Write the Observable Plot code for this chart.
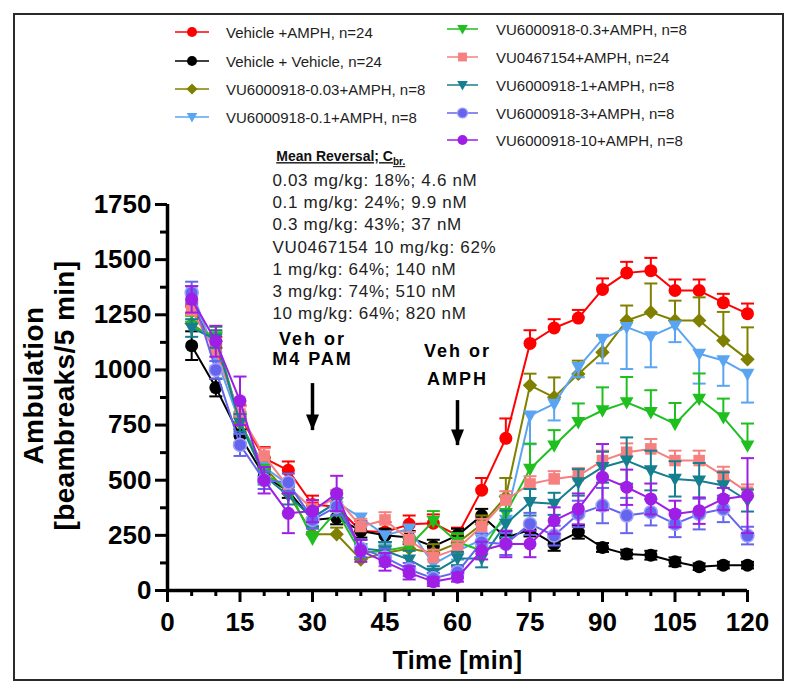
<!DOCTYPE html>
<html><head><meta charset="utf-8">
<script src="https://cdn.jsdelivr.net/npm/d3@7"></script>
<script src="https://cdn.jsdelivr.net/npm/@observablehq/plot@0.6"></script>
<style>
body{margin:0;background:#fff;font-family:"Liberation Sans",Arial,sans-serif;}
#wrap{position:relative;width:800px;height:696px;overflow:hidden;background:#fff;}
#frame{position:absolute;left:13px;top:13px;width:767px;height:664px;border:2px solid #2a2a2a;pointer-events:none;}
#legend{position:relative;height:140px;}
.item{position:absolute;display:flex;align-items:center;height:20px;font-size:15px;color:#1e1e1e;white-space:nowrap;}
.item svg{display:block;}
g[aria-description="note"] text{letter-spacing:0.7px;}
g[aria-description="cue"] text{letter-spacing:2px;}
g[aria-description="title"] text{letter-spacing:0.4px;}
</style></head><body>
<div id="wrap"><div id="legend"></div><div id="chart"></div><div id="frame"></div></div>
<script>
// ---------- data ----------
const times = [5,10,15,20,25,30,35,40,45,50,55,60,65,70,75,80,85,90,95,100,105,110,115,120];

const seriesNames = [
  "Vehicle +AMPH, n=24",
  "Vehicle + Vehicle, n=24",
  "VU6000918-0.03+AMPH, n=8",
  "VU6000918-0.1+AMPH, n=8",
  "VU6000918-0.3+AMPH, n=8",
  "VU0467154+AMPH, n=24",
  "VU6000918-1+AMPH, n=8",
  "VU6000918-3+AMPH, n=8",
  "VU6000918-10+AMPH, n=8"
];

const vehAmph    = [1290,1100,790,600,545,390,380,270,265,300,305,250,455,690,1120,1190,1235,1365,1440,1450,1360,1360,1305,1255];
const vehVeh     = [1110,920,700,520,450,320,330,270,250,240,200,250,340,240,275,210,265,195,165,160,130,108,115,115];
const vu003      = [1210,1130,760,560,440,255,255,140,170,190,170,215,300,425,930,876,982,1080,1224,1262,1224,1224,1133,1048];
const vu01       = [1360,1060,760,560,480,330,400,330,250,280,120,180,230,320,793,846,1012,1140,1194,1152,1201,1073,1043,982];
const vu03       = [1200,1150,770,530,460,235,360,170,180,200,315,220,180,350,551,657,763,816,853,808,755,869,785,657];
const vu0467154  = [1270,1080,800,610,470,370,420,290,320,230,150,190,290,410,483,506,520,589,627,642,589,589,521,446];
const vu1        = [1190,1140,760,520,430,330,400,190,180,140,80,145,145,302,400,393,490,559,589,544,506,498,476,408];
const vu3        = [1350,1000,660,500,490,320,380,190,150,95,55,83,219,211,302,249,347,385,340,355,302,347,370,249];
const vu10       = [1320,1130,860,500,350,360,440,180,130,80,40,60,181,211,211,317,370,514,468,415,347,362,415,430];

const vehAmphSem   = [60,50,50,50,40,40,40,45,45,40,40,35,55,90,60,40,37,50,50,58,50,50,40,46];
const vehVehSem    = [65,40,30,30,30,30,30,30,30,30,30,30,30,30,30,30,30,20,20,20,20,15,15,15];
const vu003Sem     = [45,40,40,40,35,30,30,30,30,30,40,40,40,85,53,90,60,75,68,130,90,105,130,145];
const vu01Sem      = [50,45,50,45,40,40,40,40,40,40,40,40,50,60,130,75,45,110,190,140,75,135,115,130];
const vu03Sem      = [45,45,40,40,40,30,40,40,40,40,45,40,40,80,115,70,85,105,115,100,95,115,85,100];
const vu0467154Sem = [40,35,35,35,35,35,35,35,35,35,35,35,35,40,35,35,35,45,40,45,45,45,40,35];
const vu1Sem       = [40,40,40,40,40,40,40,40,40,40,30,30,40,60,60,50,60,70,105,90,80,80,60,50];
const vu3Sem       = [50,40,50,40,40,40,40,40,40,30,25,25,40,50,50,45,60,80,80,60,60,70,60,40];
const vu10Sem      = [60,70,110,60,90,50,80,50,40,30,20,20,40,60,60,60,70,150,80,70,60,60,50,170];

const seriesValues = [vehAmph, vehVeh, vu003, vu01, vu03, vu0467154, vu1, vu3, vu10];
const seriesSems   = [vehAmphSem, vehVehSem, vu003Sem, vu01Sem, vu03Sem, vu0467154Sem, vu1Sem, vu3Sem, vu10Sem];
const barDirection = ["up","both","up","down","up","up","both","both","both"];

const xMajor = [0,15,30,45,60,75,90,105,120];
const xMinor = [5,10,20,25,35,40,50,55,65,70,80,85,95,100,110,115];
const yMajor = [0,250,500,750,1000,1250,1500,1750];
const yMinor = [125,375,625,875,1125,1375,1625];

const noteHeader = "Mean Reversal; C";
const noteSub = "br.";
const noteLines = [
  "0.03 mg/kg: 18%; 4.6 nM",
  "0.1 mg/kg: 24%; 9.9 nM",
  "0.3 mg/kg: 43%; 37 nM",
  "VU0467154 10 mg/kg: 62%",
  "1 mg/kg: 64%; 140 nM",
  "3 mg/kg: 74%; 510 nM",
  "10 mg/kg: 64%; 820 nM"
];
// dosing cues: time, arrow top, arrow tip (data units), text
const cues = [
  {t: 30, from: 938, to: 725, label: "Veh or\nM4 PAM", textV: 1097},
  {t: 60, from: 861, to: 657, label: "Veh or\nAMPH",   textV: 1035}
];

// ---------- styles ----------
const colors = ["#ff0000","#000000","#808000","#5aa5f2","#1fbf1f","#f5807f","#157f8f","#6464ee","#9e1ee6"];
const triDown = {draw(ctx, size){ const s = Math.sqrt(size) * 0.6; ctx.moveTo(-s, -s*0.75); ctx.lineTo(s, -s*0.75); ctx.lineTo(0, s*1.05); ctx.closePath(); }};
const capSym = {draw(ctx){ ctx.moveTo(-6.5, 0); ctx.lineTo(6.5, 0); }};
const headSym = {draw(ctx){ ctx.moveTo(-6.5, -16); ctx.lineTo(6.5, -16); ctx.lineTo(0, 0); ctx.closePath(); }};
const symbols = [d3.symbolCircle, d3.symbolCircle, d3.symbolDiamond2, triDown, triDown, d3.symbolSquare, triDown, d3.symbolCircle, d3.symbolCircle];
const strokeOf = (i) => i === 7 ? "#a0a0fa" : colors[i];

// ---------- legend ----------
const legendPos = [
  {x:175, y:32, w:34, gap:17},{x:175, y:61, w:34, gap:17},{x:175, y:89, w:34, gap:17},{x:175, y:117, w:34, gap:17},
  {x:447, y:29, w:31, gap:18},{x:447, y:57, w:31, gap:18},{x:447, y:85, w:31, gap:18},{x:447, y:113, w:31, gap:18},{x:447, y:140, w:31, gap:18}
];
const legend = d3.select("#legend");
seriesNames.forEach((name, i) => {
  const p = legendPos[i];
  const it = legend.append("div").attr("class","item").style("left", p.x+"px").style("top", (p.y-10)+"px");
  const s = it.append("svg").attr("width", p.w).attr("height", 20);
  s.append("line").attr("x1",0).attr("x2",p.w).attr("y1",10).attr("y2",10).attr("stroke",colors[i]).attr("stroke-width",1.5);
  s.append("path").attr("transform",`translate(${p.w/2},10)`)
    .attr("d", d3.symbol(symbols[i], Math.PI*5*5)())
    .attr("fill", colors[i]).attr("stroke", strokeOf(i)).attr("stroke-width", i===7?1.2:0);
  it.append("span").style("margin-left", p.gap+"px").text(name);
});

// ---------- marks ----------
const marks = [];
seriesNames.forEach((name, i) => {
  const rows = times.map((t, j) => {
    const v = seriesValues[i][j], e = seriesSems[i][j], d = barDirection[i];
    return {s: name, t, v, lo: d === "up" ? v : v - e, hi: d === "down" ? v : v + e};
  });
  const caps = rows.flatMap(r => {
    const d = barDirection[i];
    return d === "up" ? [{s:r.s, t:r.t, y:r.hi}] : d === "down" ? [{s:r.s, t:r.t, y:r.lo}] : [{s:r.s, t:r.t, y:r.lo},{s:r.s, t:r.t, y:r.hi}];
  });
  marks.push(
    Plot.ruleX(rows, {x:"t", y1:"lo", y2:"hi", stroke:"s", strokeWidth:2}),
    Plot.dot(caps, {x:"t", y:"y", symbol: capSym, stroke:"s", fill:"none", strokeWidth:2, r:6}),
    Plot.line(rows, {x:"t", y:"v", stroke:"s", strokeWidth:2}),
    Plot.dot(rows, {x:"t", y:"v", symbol: symbols[i], fill:"s", stroke: i===7 ? "#a0a0fa" : "s", strokeWidth: i===7 ? 1.5 : 0, r:6.5})
  );
});

const chart = Plot.plot({
  width: 800, height: 556,
  marginLeft: 167, marginRight: 53, marginTop: 64, marginBottom: 106,
  style: {fontFamily: "'Liberation Sans', Arial, sans-serif", color: "#000", background: "#fff", overflow: "visible"},
  x: {domain: [0, 120]},
  y: {domain: [0, 1750]},
  color: {domain: seriesNames, range: colors},
  marks: [
    Plot.axisY({ticks: yMinor, tickSize: 7, strokeWidth: 3, tickFormat: () => "", label: null}),
    Plot.axisY({ticks: yMajor, tickSize: 12, tickPadding: 4, strokeWidth: 3, fontSize: 26, fontWeight: "bold", tickFormat: d => String(d), label: null}),
    Plot.axisX({ticks: xMinor, tickSize: 6, strokeWidth: 3, tickFormat: () => "", label: null}),
    Plot.axisX({ticks: xMajor, tickSize: 12, tickPadding: 10, strokeWidth: 3, fontSize: 26, fontWeight: "bold", tickFormat: d => String(d), label: null}),
    Plot.ruleX([0], {strokeWidth: 3.5}),
    Plot.ruleY([0], {strokeWidth: 3.5}),
    ...marks,
    Plot.ruleX(cues, {x:"t", y1:"from", y2:"to", strokeWidth: 3.5}),
    Plot.dot(cues, {x:"t", y:"to", symbol: headSym, fill:"#000", stroke:"none", r:5}),
    Plot.text(cues, {x:"t", y:"textV", text:"label", fontSize:18, fontWeight:"bold", lineHeight: 1.12, ariaDescription:"cue", filter: d => d.t === 30}),
    Plot.text(cues, {x:"t", y:"textV", text:"label", fontSize:18, fontWeight:"bold", lineHeight: 1.55, ariaDescription:"cue", filter: d => d.t === 60}),
    Plot.text([noteLines.join("\n")], {x: 21.7, y: 1564, text: d => d, textAnchor:"start", fontSize:17, lineHeight:1.31, fill:"#222", ariaDescription:"note"}),
    Plot.text([noteHeader], {x: 22.5, y: 1967, text: d => d, textAnchor:"start", fontSize:14, fontWeight:"bold", fill:"#111", ariaDescription:"hdr"}),
    Plot.text(["Time [min]"], {frameAnchor:"bottom", lineAnchor:"middle", textAnchor:"middle", dy: 70, text: d => d, fontSize:25, fontWeight:"bold", ariaDescription:"title"}),
    Plot.text(["Ambulation"], {frameAnchor:"left", lineAnchor:"middle", textAnchor:"middle", rotate:-90, dx:-133, dy:-12, text: d => d, fontSize:28, fontWeight:"bold", ariaDescription:"title"}),
    Plot.text(["[beambreaks/5 min]"], {frameAnchor:"left", lineAnchor:"middle", textAnchor:"middle", rotate:-90, dx:-102, dy:-2, text: d => d, fontSize:28, fontWeight:"bold", ariaDescription:"title"})
  ]
});
document.getElementById("chart").appendChild(chart);

// header: underline + subscript
const hdr = d3.select(chart).select('g[aria-description="hdr"] text');
hdr.attr("text-decoration","underline");
hdr.append("tspan").attr("font-size", 10).attr("dy", 4).text(noteSub);
</script></body></html>
